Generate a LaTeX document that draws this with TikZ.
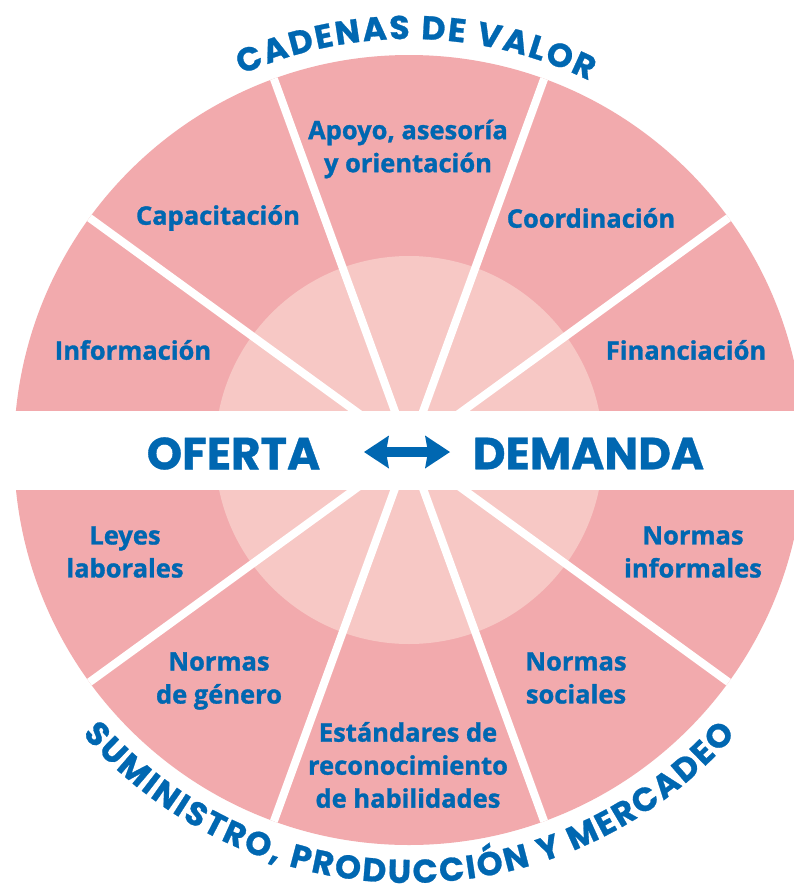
\documentclass[tikz,border=0pt]{standalone}
\usepackage{fontspec}
\setmainfont{Open Sans}[BoldFeatures={FakeBold=1.2}]
\newfontfamily\titlefont{Poppins}[BoldFeatures={FakeBold=0.8}]
\usetikzlibrary{decorations.text,arrows.meta,calc}
\definecolor{tblue}{RGB}{0,103,177}
\definecolor{outerpink}{RGB}{242,170,173}
\definecolor{innerpink}{RGB}{247,200,197}
\begin{document}
\begin{tikzpicture}[x=1pt,y=1pt,
  lbl/.style={text=tblue, font=\fontsize{25.5}{33}\selectfont\bfseries, align=center, inner sep=0pt},
  big/.style={text=tblue, font=\titlefont\fontsize{45}{45}\selectfont\bfseries, inner sep=0pt},
  ray/.style={white, line width=8pt},
  twoway/.style={tblue, line width=10.6pt,
    {Stealth[length=25pt,width=33pt,inset=3pt,line width=0pt]}-{Stealth[length=25pt,width=33pt,inset=3pt,line width=0pt]}},
  arctext/.style={decorate, decoration={text along path, text align=fit to path, text={|\titlefont\fontsize{33}{33}\selectfont\bfseries\color{tblue}|#1}}}
  ]
\useasboundingbox (0,0) rectangle (794,-894);
\fill[white] (0,0) rectangle (794,-894);
\coordinate (c) at (409,-450);
\fill[outerpink] (c) circle[radius=395];
\fill[innerpink] (c) circle[radius=194];
\begin{scope}
  \clip (c) circle[radius=395];
  \foreach \a in {36,70,110,144,216,250,290,324}
    \draw[ray] (c) -- ++(\a:420);
\end{scope}
\fill[white] (0,-411) rectangle (794,-490);

\node[lbl] (info) at (133,-350) {Información};
\node[lbl] (capa) at (218,-218) {Capacitación};
\node[lbl] (apoyo) at (408,-149) {Apoyo, asesoría\\y orientación};
\node[lbl] (coord) at (591,-218) {Coordinación};
\node[lbl] (fin) at (686,-350) {Financiación};
\node[lbl] (leyes) at (125,-552) {Leyes\\laborales};
\node[lbl] (ninf) at (693,-552) {Normas\\informales};
\node[lbl] (ngen) at (219,-681) {Normas\\de género};
\node[lbl] (nsoc) at (576,-678) {Normas\\sociales};
\node[lbl] (estd) at (408,-765) {Estándares de\\reconocimiento\\de habilidades};

\node[big] (oferta) at (233.5,-453.5) {OFERTA};
\node[big] (demanda) at (588.5,-453.5) {DEMANDA};
\coordinate (al) at (364,-452);
\coordinate (ar) at (450,-452);
\draw[twoway] (al) -- (ar);

\path[arctext={CADENAS DE VALOR}] ($(c)+(114:411)$) arc[start angle=114, end angle=64, radius=411];
\path[arctext={SUMINISTRO, PRODUCCIÓN Y MERCADEO}] ($(c)+(221:433)$) arc[start angle=221, end angle=319, radius=433];
\end{tikzpicture}
\end{document}
